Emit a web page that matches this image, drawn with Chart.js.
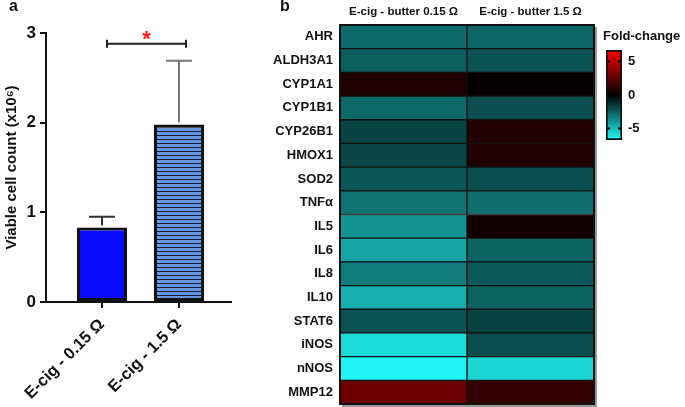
<!DOCTYPE html>
<html>
<head>
<meta charset="utf-8">
<title>Viable cell count and fold-change heatmap</title>
<script src="https://cdn.jsdelivr.net/npm/chart.js"></script>
<style>
  body { margin: 0; background: #fff; font-family: "Liberation Sans", Arial, sans-serif; }
  .wrap { position: relative; width: 685px; height: 407px; overflow: hidden; }
  canvas { position: absolute; }
  .lbl { position: absolute; font-weight: bold; color: #111; line-height: 1; white-space: nowrap; }
</style>
</head>
<body>
<div class="wrap">
  <canvas id="barChart" width="240" height="407" style="left:0;top:0"></canvas>
  <canvas id="heatChart" width="360" height="407" style="left:240px;top:0"></canvas>
  <canvas id="scaleChart" width="80" height="110" style="left:595px;top:40px"></canvas>
  <div class="lbl" style="left:9px;top:-2px;font-size:16px">a</div>
  <div class="lbl" style="left:280px;top:-2px;font-size:16px">b</div>
  <div class="lbl" style="left:603px;top:29px;font-size:13px">Fold-change</div>
</div>

<script>
// panel a
const groups = ['E-cig - 0.15 Ω', 'E-cig - 1.5 Ω'];
const cellCounts = [0.83, 1.98];
const cellErrors = [0.12, 0.71];
const yTicks = [0, 1, 2, 3];
const sigLevel = 2.88;

// panel b
const genes = ['AHR', 'ALDH3A1', 'CYP1A1', 'CYP1B1', 'CYP26B1', 'HMOX1', 'SOD2', 'TNFα',
  'IL5', 'IL6', 'IL8', 'IL10', 'STAT6', 'iNOS', 'nNOS', 'MMP12'];
const conditions = ['E-cig - butter 0.15 Ω', 'E-cig - butter 1.5 Ω'];
const fold015 = [-2.9, -2.5, 0.83, -2.8, -1.8, -1.85, -2.3, -3.05,
  -3.9, -4.4, -3.3, -4.65, -2.2, -5.8, -6.5, 2.9];
const fold15 = [-2.7, -2.2, 0.13, -2.1, 0.88, 0.83, -2.1, -2.95,
  0.47, -2.6, -2.4, -2.6, -1.75, -2.0, -5.7, 1.35];
const scaleTicks = [-5, 0, 5];
const scaleLimit = 6.7;

const font = '"Liberation Sans", Arial, sans-serif';
const ink = '#111';
Chart.defaults.font.family = font;

function foldColor(v) {
  const t = Math.min(Math.abs(v) / scaleLimit, 1);
  if (v >= 0) return 'rgb(' + Math.round(250 * t) + ',0,0)';
  return 'rgb(' + Math.round(32 * t) + ',' + Math.round(252 * t) + ',' + Math.round(250 * t) + ')';
}

function stripes() {
  const c = document.createElement('canvas');
  c.width = 4; c.height = 4;
  const g = c.getContext('2d');
  g.fillStyle = '#6798e6';
  g.fillRect(0, 0, 4, 4);
  g.fillStyle = '#1c1f33';
  g.fillRect(0, 3, 4, 1);
  return g.createPattern(c, 'repeat');
}

// no label overhang padding, the boxes are sized by hand
function noPad(s) {
  s.paddingTop = 0; s.paddingBottom = 0;
  s.paddingLeft = 0; s.paddingRight = 0;
}

const errorBars = {
  id: 'errorBars',
  afterDatasetsDraw(chart) {
    const { ctx, scales: { x, y } } = chart;
    const errColors = ['#333', '#777'];
    ctx.save();
    ctx.lineWidth = 2;
    cellCounts.forEach((v, i) => {
      const px = x.getPixelForValue(i + 1);
      const base = y.getPixelForValue(v);
      const top = y.getPixelForValue(v + cellErrors[i]);
      ctx.strokeStyle = errColors[i];
      ctx.beginPath();
      ctx.moveTo(px, base - 2);
      ctx.lineTo(px, top);
      ctx.moveTo(px - 13, top);
      ctx.lineTo(px + 13, top);
      ctx.stroke();
    });
    // significance bracket
    const x1 = x.getPixelForValue(1) + 5;
    const x2 = x.getPixelForValue(2) + 7;
    const sy = y.getPixelForValue(sigLevel);
    ctx.strokeStyle = '#222';
    ctx.beginPath();
    ctx.moveTo(x1, sy); ctx.lineTo(x2, sy);
    ctx.moveTo(x1, sy - 4); ctx.lineTo(x1, sy + 4);
    ctx.moveTo(x2, sy - 4); ctx.lineTo(x2, sy + 4);
    ctx.stroke();
    ctx.fillStyle = '#ff1a1a';
    ctx.font = 'bold 22px ' + font;
    ctx.textAlign = 'center';
    ctx.textBaseline = 'middle';
    ctx.fillText('*', (x1 + x2) / 2, sy - 4);
    ctx.restore();
  }
};

new Chart(document.getElementById('barChart'), {
  type: 'bar',
  data: {
    datasets: [{
      data: cellCounts.map((v, i) => ({ x: i + 1, y: v })),
      backgroundColor: ['#0a0aff', stripes()],
      borderColor: ink,
      borderWidth: 3,
      borderSkipped: false,
      barPercentage: 0.65,
      categoryPercentage: 1
    }]
  },
  options: {
    responsive: false,
    animation: false,
    layout: { padding: { left: 0, top: 33, right: 9, bottom: 0 } },
    plugins: { legend: { display: false }, tooltip: { enabled: false } },
    scales: {
      x: {
        type: 'linear', min: 0.273, max: 2.675, offset: false,
        afterBuildTicks: s => { s.ticks = groups.map((g, i) => ({ value: i + 1 })); },
        afterFit: s => { s.height = 105; },
        grid: { offset: false, drawOnChartArea: false, tickLength: 6, color: ink, lineWidth: 2 },
        border: { color: ink, width: 2 },
        ticks: {
          callback: (v, i) => groups[i], autoSkip: false,
          minRotation: 45, maxRotation: 45, padding: 7,
          color: ink, font: { size: 16.5, weight: 'bold' }
        }
      },
      y: {
        min: 0, max: 3,
        afterBuildTicks: s => { s.ticks = yTicks.map(v => ({ value: v })); },
        afterFit: s => { s.width = 46; },
        grid: { drawOnChartArea: false, tickLength: 6, color: ink, lineWidth: 2 },
        border: { color: ink, width: 2 },
        ticks: { color: ink, padding: 4, font: { size: 17, weight: 'bold' } },
        title: {
          display: true, text: 'Viable cell count (x10⁶)', color: ink, padding: { top: 3, bottom: 0 },
          font: { size: 15, weight: 'bold' }
        }
      }
    }
  },
  plugins: [errorBars]
});

const frame = {
  id: 'frame',
  afterDatasetsDraw(chart) {
    const { ctx, chartArea: a } = chart;
    ctx.save();
    ctx.strokeStyle = '#999';
    ctx.lineWidth = 2;
    ctx.beginPath();
    ctx.moveTo(a.right + 2, a.top + 2); ctx.lineTo(a.right + 2, a.bottom + 2);
    ctx.lineTo(a.left + 2, a.bottom + 2);
    ctx.stroke();
    ctx.strokeStyle = ink;
    ctx.lineWidth = 2;
    ctx.strokeRect(a.left, a.top, a.right - a.left, a.bottom - a.top);
    ctx.restore();
  }
};

const folds = [fold015, fold15];
new Chart(document.getElementById('heatChart'), {
  type: 'bar',
  data: {
    labels: genes,
    datasets: conditions.map((c, j) => ({
      label: c,
      data: genes.map(() => [j, j + 1]),
      backgroundColor: folds[j].map(foldColor),
      borderColor: ink,
      borderWidth: 1,
      borderSkipped: false,
      barPercentage: 1,
      categoryPercentage: 1,
      grouped: false
    }))
  },
  options: {
    indexAxis: 'y',
    responsive: false,
    animation: false,
    layout: { padding: { left: 0, top: 0, right: 6, bottom: 3 } },
    plugins: { legend: { display: false }, tooltip: { enabled: false } },
    scales: {
      x: {
        type: 'linear', position: 'top', min: 0, max: 2,
        afterBuildTicks: s => { s.ticks = conditions.map((c, j) => ({ value: j + 0.5 })); },
        afterFit: s => { s.height = 25; noPad(s); },
        grid: { display: false, drawTicks: false },
        border: { display: false },
        ticks: {
          callback: (v, i) => conditions[i], autoSkip: false, maxRotation: 0,
          padding: 6, color: ink, font: { size: 11.5, weight: 'bold' }
        }
      },
      y: {
        afterFit: s => { s.width = 100; noPad(s); },
        grid: { display: false, drawTicks: false },
        border: { display: false },
        ticks: { padding: 7, color: ink, font: { size: 13, weight: 'bold' } }
      }
    }
  },
  plugins: [frame]
});

const scaleMarks = {
  id: 'scaleMarks',
  afterDatasetsDraw(chart) {
    const { ctx, chartArea: a, scales: { y } } = chart;
    ctx.save();
    ctx.strokeStyle = ink;
    ctx.lineWidth = 2;
    scaleTicks.filter(v => v !== 0).forEach(v => {
      const py = y.getPixelForValue(v);
      ctx.beginPath();
      ctx.moveTo(a.left, py); ctx.lineTo(a.left + 4, py);
      ctx.moveTo(a.right - 4, py); ctx.lineTo(a.right, py);
      ctx.stroke();
    });
    ctx.restore();
  }
};

new Chart(document.getElementById('scaleChart'), {
  type: 'bar',
  data: {
    labels: ['Fold-change'],
    datasets: [{
      data: [[-scaleLimit, scaleLimit]],
      backgroundColor: c => {
        const chart = c.chart;
        if (!chart.chartArea) return '#000';
        const y = chart.scales.y;
        const g = chart.ctx.createLinearGradient(0, y.getPixelForValue(-scaleLimit), 0, y.getPixelForValue(scaleLimit));
        g.addColorStop(0, foldColor(-scaleLimit));
        g.addColorStop(0.5, foldColor(0));
        g.addColorStop(1, foldColor(scaleLimit));
        return g;
      },
      borderColor: ink,
      borderWidth: 2,
      borderSkipped: false,
      barPercentage: 1,
      categoryPercentage: 1
    }]
  },
  options: {
    responsive: false,
    animation: false,
    layout: { padding: { left: 11, top: 10, right: 0, bottom: 10 } },
    plugins: { legend: { display: false }, tooltip: { enabled: false } },
    scales: {
      x: { display: false },
      y: {
        position: 'right', min: -scaleLimit, max: scaleLimit,
        afterBuildTicks: s => { s.ticks = scaleTicks.map(v => ({ value: v })); },
        afterFit: s => { s.width = 53; noPad(s); },
        grid: { display: false, drawTicks: false },
        border: { display: false },
        ticks: { callback: v => String(v), padding: 6, color: ink, font: { size: 13, weight: 'bold' } }
      }
    }
  },
  plugins: [scaleMarks]
});
</script>
</body>
</html>
